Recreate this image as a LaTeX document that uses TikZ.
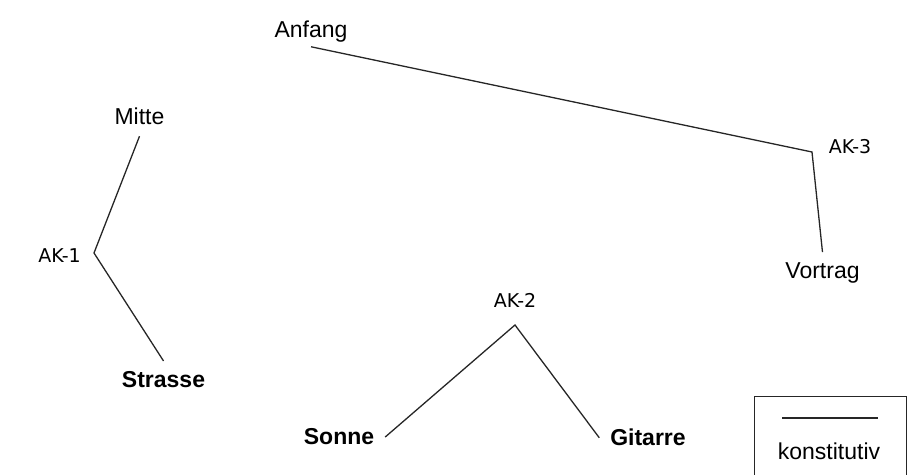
\documentclass[tikz,border=0pt]{standalone}
\usepackage{fontspec}
\setmainfont{Liberation Sans}
\newfontfamily\akfont{DejaVu Sans}

\begin{document}
\begin{tikzpicture}[
  x=0.5pt, y=-0.5pt,
  word/.style={inner sep=2pt, outer sep=3.5pt, anchor=base, font=\fontsize{11.5}{14}\selectfont},
  key/.style={word, font=\fontsize{11.5}{14}\selectfont\bfseries},
  ak/.style={inner sep=2pt, anchor=base, font=\akfont\fontsize{9.5}{12}\selectfont},
  edge/.style={draw=black!85, line width=0.65pt}
]
\useasboundingbox (0,0) rectangle (907,475);
\clip (0,0) rectangle (907,475);
\node[word, outer sep=0pt] (anfang) at (311,38) {Anfang};
\node[word] (mitte) at (139.5,125) {Mitte};
\node[word] (vortrag) at (822.5,279) {Vortrag};
\node[key] (strasse) at (163.5,388) {Strasse};
\node[key] (sonne) at (339,445) {Sonne};
\node[key] (gitarre) at (648,446) {Gitarre};
\node[ak] (ak1) at (59.5,263) {AK-1};
\node[ak] (ak2) at (515,308) {AK-2};
\node[ak] (ak3) at (850,154) {AK-3};
\coordinate (v1) at (94,253);
\coordinate (v2) at (515,325);
\coordinate (v3) at (812,152);
\draw[edge] (anfang.south) -- (v3) -- (vortrag.north);
\draw[edge] (mitte.south) -- (v1) -- (strasse.north);
\draw[edge] (sonne.east) -- (v2) -- (gitarre.west);
\node[draw=black!85, line width=0.65pt, anchor=north west, minimum width=76pt, minimum height=50pt, inner sep=0pt] (legende) at (754,396) {};
\coordinate (l1) at (782,418);
\coordinate (l2) at (878,418);
\draw[edge] (l1) -- (l2);
\node[word] (konst) at (829,460) {konstitutiv};
\end{tikzpicture}
\end{document}
